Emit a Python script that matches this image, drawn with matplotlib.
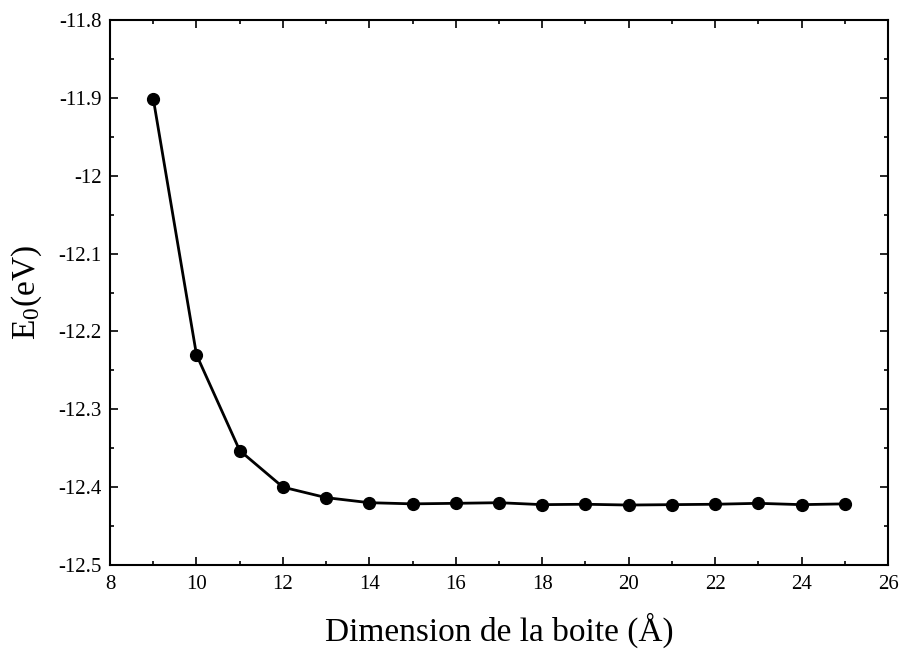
import matplotlib
matplotlib.use("Agg")
import matplotlib.pyplot as plt
from matplotlib.ticker import MultipleLocator, FuncFormatter

box_size = [9, 10, 11, 12, 13, 14, 15, 16, 17, 18, 19, 20, 21, 22, 23, 24, 25]
energy = [-11.901, -12.230, -12.353, -12.400, -12.4135, -12.420, -12.4215, -12.4208,
          -12.420, -12.4225, -12.422, -12.423, -12.4225, -12.422, -12.4208, -12.4225, -12.4215]

plt.rcParams['font.family'] = ['Liberation Serif', 'DejaVu Serif']
plt.rcParams['mathtext.fontset'] = 'custom'
plt.rcParams['mathtext.rm'] = 'Liberation Serif'
plt.rcParams['mathtext.it'] = 'Liberation Serif:italic'

fig = plt.figure(figsize=(9.02, 6.5), dpi=100)
ax = fig.add_axes([0.122, 0.1308, 0.8625, 0.8384])

ax.plot(box_size, energy, color='black', linewidth=2.0, marker='o', markersize=8.5)

ax.set_xlim(8, 26)
ax.set_ylim(-12.5, -11.8)
ax.xaxis.set_major_locator(MultipleLocator(2))
ax.xaxis.set_minor_locator(MultipleLocator(1))
ax.yaxis.set_major_locator(MultipleLocator(0.1))
ax.yaxis.set_minor_locator(MultipleLocator(0.05))
ax.yaxis.set_major_formatter(FuncFormatter(lambda v, p: '%g' % round(v, 2)))

ax.tick_params(which='both', direction='in', top=True, right=True, labelsize=15)
ax.tick_params(axis='x', pad=7)
ax.tick_params(axis='y', pad=6)
ax.tick_params(which='major', length=6, width=1.2)
ax.tick_params(which='minor', length=3, width=1.2)
for s in ax.spines.values():
    s.set_linewidth(1.5)

ax.set_xlabel('Dimension de la boite (Å)', fontsize=24, labelpad=14)
ax.set_ylabel(r'E$_\mathrm{0}$(eV)', fontsize=24, labelpad=10)

fig.savefig('out.png', dpi=100)
